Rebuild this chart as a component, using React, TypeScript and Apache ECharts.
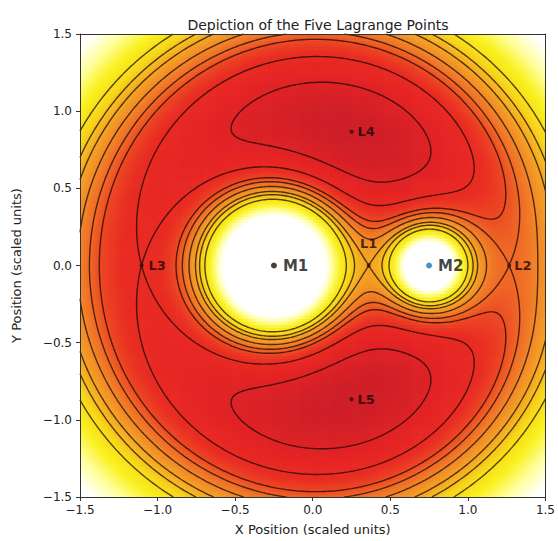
import React, { useEffect, useRef } from "react";
import * as echarts from "echarts";

// ---- texts ----
const TITLE = "Depiction of the Five Lagrange Points";
const X_LABEL = "X Position (scaled units)";
const Y_LABEL = "Y Position (scaled units)";

// ---- axis ----
const AXIS_MIN = -1.5;
const AXIS_MAX = 1.5;
const TICK_STEP = 0.5;

// ---- system parameters (restricted three-body problem) ----
const MU = 0.25;
const MASS_NAMES = ["M1", "M2"];
const MASS_X = [-0.25, 0.75];
const MASS_Y = [0, 0];
const MASS_WEIGHTS = [1 - MU, MU];

// ---- Lagrange points ----
const LAGRANGE_NAMES = ["L1", "L2", "L3", "L4", "L5"];
const LAGRANGE_X = [0.3607, 1.2659, -1.1032, 0.25, 0.25];
const LAGRANGE_Y = [0, 0, 0, 0.866, -0.866];

// ---- contour levels of the effective potential ----
const CONTOUR_LEVELS = [-2.1, -2.0, -1.9353, -1.85, -1.7806, -1.73, -1.6225, -1.5];

// ---- colour scale (potential value -> colour) ----
const COLOR_STOP_VALUES = [-2.62, -2.4, -2.2, -2.05, -1.95, -1.85, -1.78, -1.72, -1.65, -1.55, -1.48, -1.4];
const COLOR_STOP_HEX = [
  "#ffffff", "#ffffa0", "#faf01e", "#f7d719", "#f5aa23", "#f18728",
  "#ef6926", "#ec4623", "#e92d23", "#e62424", "#dc2226", "#cd1e28",
];

const FONT = "DejaVu Sans";

function potential(x: number, y: number): number {
  let v = -0.5 * (x * x + y * y);
  for (let k = 0; k < MASS_X.length; k++) {
    const r = Math.max(Math.hypot(x - MASS_X[k], y - MASS_Y[k]), 1e-3);
    v -= MASS_WEIGHTS[k] / r;
  }
  return v;
}

function hexToRgb(h: string): number[] {
  return [parseInt(h.slice(1, 3), 16), parseInt(h.slice(3, 5), 16), parseInt(h.slice(5, 7), 16)];
}
const STOP_RGB = COLOR_STOP_HEX.map(hexToRgb);

function colorFor(v: number): string {
  const n = COLOR_STOP_VALUES.length;
  if (v <= COLOR_STOP_VALUES[0]) return COLOR_STOP_HEX[0];
  if (v >= COLOR_STOP_VALUES[n - 1]) return COLOR_STOP_HEX[n - 1];
  for (let k = 0; k < n - 1; k++) {
    const a = COLOR_STOP_VALUES[k];
    const b = COLOR_STOP_VALUES[k + 1];
    if (v >= a && v <= b) {
      const t = (v - a) / (b - a);
      const c0 = STOP_RGB[k];
      const c1 = STOP_RGB[k + 1];
      const r = Math.round(c0[0] + (c1[0] - c0[0]) * t);
      const g = Math.round(c0[1] + (c1[1] - c0[1]) * t);
      const bl = Math.round(c0[2] + (c1[2] - c0[2]) * t);
      return `rgb(${r},${g},${bl})`;
    }
  }
  return COLOR_STOP_HEX[n - 1];
}

type Pt = [number, number];
type Seg = { k0: number; k1: number; p0: Pt; p1: Pt };

function buildContours(level: number, vals: Float64Array, M: number, x0: number, d: number): Pt[][] {
  const W = M + 1;
  const segs: Seg[] = [];
  for (let j = 0; j < M; j++) {
    for (let i = 0; i < M; i++) {
      const a = vals[j * W + i];
      const b = vals[j * W + i + 1];
      const c = vals[(j + 1) * W + i + 1];
      const e = vals[(j + 1) * W + i];
      const cr: { key: number; p: Pt }[] = [];
      if ((a < level) !== (b < level)) {
        const t = (level - a) / (b - a);
        cr.push({ key: (j * W + i) * 2, p: [x0 + (i + t) * d, x0 + j * d] });
      }
      if ((b < level) !== (c < level)) {
        const t = (level - b) / (c - b);
        cr.push({ key: (j * W + i + 1) * 2 + 1, p: [x0 + (i + 1) * d, x0 + (j + t) * d] });
      }
      if ((e < level) !== (c < level)) {
        const t = (level - e) / (c - e);
        cr.push({ key: ((j + 1) * W + i) * 2, p: [x0 + (i + t) * d, x0 + (j + 1) * d] });
      }
      if ((a < level) !== (e < level)) {
        const t = (level - a) / (e - a);
        cr.push({ key: (j * W + i) * 2 + 1, p: [x0 + i * d, x0 + (j + t) * d] });
      }
      if (cr.length === 2) {
        segs.push({ k0: cr[0].key, k1: cr[1].key, p0: cr[0].p, p1: cr[1].p });
      } else if (cr.length === 4) {
        const center = (a + b + c + e) / 4;
        if ((center < level) === (a < level)) {
          segs.push({ k0: cr[0].key, k1: cr[1].key, p0: cr[0].p, p1: cr[1].p });
          segs.push({ k0: cr[2].key, k1: cr[3].key, p0: cr[2].p, p1: cr[3].p });
        } else {
          segs.push({ k0: cr[0].key, k1: cr[3].key, p0: cr[0].p, p1: cr[3].p });
          segs.push({ k0: cr[1].key, k1: cr[2].key, p0: cr[1].p, p1: cr[2].p });
        }
      }
    }
  }
  const map = new Map<number, number[]>();
  const add = (k: number, idx: number) => {
    const l = map.get(k);
    if (l) l.push(idx);
    else map.set(k, [idx]);
  };
  segs.forEach((s, idx) => {
    add(s.k0, idx);
    add(s.k1, idx);
  });
  const used = new Uint8Array(segs.length);
  const walk = (startKey: number, out: Pt[]) => {
    let key = startKey;
    for (;;) {
      const list = map.get(key) || [];
      let next = -1;
      for (const nIdx of list) if (!used[nIdx]) { next = nIdx; break; }
      if (next < 0) break;
      used[next] = 1;
      const sg = segs[next];
      if (sg.k0 === key) { out.push(sg.p1); key = sg.k1; }
      else { out.push(sg.p0); key = sg.k0; }
    }
  };
  const lines: Pt[][] = [];
  for (let s = 0; s < segs.length; s++) {
    if (used[s]) continue;
    used[s] = 1;
    const fwd: Pt[] = [segs[s].p0, segs[s].p1];
    walk(segs[s].k1, fwd);
    const back: Pt[] = [];
    walk(segs[s].k0, back);
    lines.push(back.reverse().concat(fwd));
  }
  return lines;
}

const tickFmt = (v: number) => v.toFixed(1).replace("-", "\u2212");

export default function App() {
  const ref = useRef<HTMLDivElement>(null);
  useEffect(() => {
    if (!ref.current) return;
    const chart = echarts.init(ref.current, undefined, { renderer: "svg" });

    // colour field cells
    const N = 150;
    const step = (AXIS_MAX - AXIS_MIN) / N;
    const half = step / 2;
    const cells: number[][] = [];
    const cellColors: string[] = [];
    for (let j = 0; j < N; j++) {
      for (let i = 0; i < N; i++) {
        const x = AXIS_MIN + (i + 0.5) * step;
        const y = AXIS_MIN + (j + 0.5) * step;
        const v = potential(x, y);
        cells.push([x, y, v]);
        cellColors.push(colorFor(v));
      }
    }

    // contour grid
    const M = 300;
    const d = (AXIS_MAX - AXIS_MIN) / M;
    const vals = new Float64Array((M + 1) * (M + 1));
    for (let j = 0; j <= M; j++) {
      for (let i = 0; i <= M; i++) {
        vals[j * (M + 1) + i] = potential(AXIS_MIN + i * d, AXIS_MIN + j * d);
      }
    }
    const contourSeries: any[] = [];
    CONTOUR_LEVELS.forEach((lev) => {
      const lines = buildContours(lev, vals, M, AXIS_MIN, d);
      lines.forEach((ln) => {
        if (ln.length < 2) return;
        contourSeries.push({
          type: "line",
          data: ln,
          symbol: "none",
          showSymbol: false,
          smooth: false,
          silent: true,
          clip: true,
          z: 3,
          lineStyle: { color: "rgba(20,5,0,0.72)", width: 1.4 },
        });
      });
    });

    const lagLabelPos = ["top", "right", "right", "right", "right"];
    const lagLabelDist = [14, 3, 5, 4, 4];

    const axisLineStyle = { color: "#333", width: 1 };

    const option: any = {
      animation: false,
      title: {
        text: TITLE,
        left: 313,
        textAlign: "center",
        top: 13,
        textStyle: { fontFamily: FONT, fontSize: 14, fontWeight: "normal", color: "#222" },
      },
      grid: { left: 80, top: 34, right: 11, bottom: 42, containLabel: false },
      xAxis: [
        {
          type: "value",
          min: AXIS_MIN,
          max: AXIS_MAX,
          interval: TICK_STEP,
          position: "bottom",
          z: 10,
          name: X_LABEL,
          nameLocation: "middle",
          nameGap: 26,
          nameTextStyle: { fontFamily: FONT, fontSize: 13, color: "#222" },
          axisLine: { show: true, onZero: false, lineStyle: axisLineStyle },
          axisTick: { show: true, inside: false, length: 4, lineStyle: axisLineStyle },
          axisLabel: { formatter: tickFmt, fontFamily: FONT, fontSize: 12, color: "#222", margin: 7 },
          splitLine: { show: false },
        },
        {
          type: "value",
          min: AXIS_MIN,
          max: AXIS_MAX,
          interval: TICK_STEP,
          position: "top",
          z: 10,
          axisLine: { show: true, onZero: false, lineStyle: axisLineStyle },
          axisTick: { show: false },
          axisLabel: { show: false },
          splitLine: { show: false },
        },
      ],
      yAxis: [
        {
          type: "value",
          min: AXIS_MIN,
          max: AXIS_MAX,
          interval: TICK_STEP,
          position: "left",
          z: 10,
          name: Y_LABEL,
          nameLocation: "middle",
          nameGap: 57,
          nameTextStyle: { fontFamily: FONT, fontSize: 13, color: "#222" },
          axisLine: { show: true, onZero: false, lineStyle: axisLineStyle },
          axisTick: { show: true, inside: false, length: 4, lineStyle: axisLineStyle },
          axisLabel: { formatter: tickFmt, fontFamily: FONT, fontSize: 12, color: "#222", margin: 8 },
          splitLine: { show: false },
        },
        {
          type: "value",
          min: AXIS_MIN,
          max: AXIS_MAX,
          interval: TICK_STEP,
          position: "right",
          z: 10,
          axisLine: { show: true, onZero: false, lineStyle: axisLineStyle },
          axisTick: { show: false },
          axisLabel: { show: false },
          splitLine: { show: false },
        },
      ],
      series: [
        {
          type: "custom",
          data: cells,
          encode: { x: 0, y: 1 },
          clip: true,
          silent: true,
          z: 1,
          progressive: 0,
          renderItem: (params: any, api: any) => {
            const x = api.value(0);
            const y = api.value(1);
            const p0 = api.coord([x - half, y + half]);
            const p1 = api.coord([x + half, y - half]);
            return {
              type: "rect",
              shape: { x: p0[0], y: p0[1], width: p1[0] - p0[0] + 0.7, height: p1[1] - p0[1] + 0.7 },
              style: { fill: cellColors[params.dataIndex] },
            };
          },
        },
        ...contourSeries,
        {
          type: "scatter",
          z: 5,
          silent: true,
          symbolSize: 4,
          itemStyle: { color: "#2a0a0a" },
          data: LAGRANGE_NAMES.map((nm, k) => ({
            name: nm,
            value: [LAGRANGE_X[k], LAGRANGE_Y[k]],
            label: {
              show: true,
              formatter: nm,
              position: lagLabelPos[k],
              distance: lagLabelDist[k],
              fontFamily: FONT,
              fontSize: 13,
              fontWeight: "bold",
              color: "#1a0505",
            },
          })),
        },
        {
          type: "scatter",
          z: 6,
          silent: true,
          symbolSize: 6,
          data: MASS_NAMES.map((nm, k) => ({
            name: nm,
            value: [MASS_X[k], MASS_Y[k]],
            itemStyle: { color: k === 0 ? "#111" : "#1f77b4" },
            label: {
              show: true,
              formatter: nm,
              position: "right",
              distance: 6,
              fontFamily: FONT,
              fontSize: 15,
              fontWeight: "bold",
              color: "#111",
            },
          })),
        },
      ],
    };
    chart.setOption(option);
    return () => chart.dispose();
  }, []);
  return (
    <div
      ref={ref}
      style={{ position: "absolute", left: 0, top: 0, width: 558, height: 541, background: "#fff" }}
    />
  );
}
